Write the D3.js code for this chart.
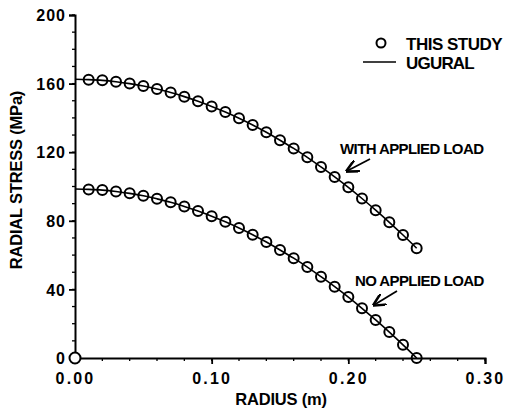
<!DOCTYPE html>
<html><head><meta charset="utf-8">
<script src="https://cdn.jsdelivr.net/npm/d3@7"></script>
<style>
html,body{margin:0;padding:0;background:#fff;}
text{font-family:"Liberation Sans",Arial,Helvetica,sans-serif;fill:#000;}
</style></head>
<body><svg id="c" width="505" height="408"></svg>
<script>
// Data
const radius = [0.01,0.02,0.03,0.04,0.05,0.06,0.07,0.08,0.09,0.10,0.11,0.12,0.13,0.14,0.15,0.16,0.17,0.18,0.19,0.20,0.21,0.22,0.23,0.24,0.25];
const noLoadStudy = [98.3,97.9,97.1,96.0,94.6,92.8,90.8,88.4,85.7,82.7,79.4,75.8,71.9,67.6,63.0,58.2,53.0,47.4,41.6,35.5,29.0,22.2,15.1,7.7,0.0];
const withLoadStudy = [162.3,161.9,161.1,160.0,158.6,156.8,154.8,152.4,149.7,146.7,143.4,139.8,135.9,131.6,127.0,122.2,117.0,111.4,105.6,99.5,93.0,86.2,79.1,71.7,64.0];
const lineRadius = [0.00,0.01,0.02,0.03,0.04,0.05,0.06,0.07,0.08,0.09,0.10,0.11,0.12,0.13,0.14,0.15,0.16,0.17,0.18,0.19,0.20,0.21,0.22,0.23,0.24,0.25];
const noLoadUgural = [98.5,98.3,97.9,97.1,96.0,94.6,92.8,90.8,88.4,85.7,82.7,79.4,75.8,71.9,67.6,63.0,58.2,53.0,47.4,41.6,35.5,29.0,22.2,15.1,7.7,0.0];
const withLoadUgural = [162.5,162.3,161.9,161.1,160.0,158.6,156.8,154.8,152.4,149.7,146.7,143.4,139.8,135.9,131.6,127.0,122.2,117.0,111.4,105.6,99.5,93.0,86.2,79.1,71.7,64.0];
const originPoint = [0.0, 0.0];
const xTicks = [0.00,0.10,0.20,0.30];
const xTickLabels = ["0.00","0.10","0.20","0.30"];
const yTicks = [0,40,80,120,160,200];
const yTickLabels = ["0","40","80","120","160","200"];
const xLabel = "RADIUS (m)";
const yLabel = "RADIAL STRESS (MPa)";
const legendLabels = ["THIS STUDY","UGURAL"];
const annotations = ["WITH APPLIED LOAD","NO APPLIED LOAD"];

const svg = d3.select("#c");
const x = d3.scaleLinear().domain([0,0.30]).range([75,485]);
const y = d3.scaleLinear().domain([0,200]).range([358,15]);

const g = svg.append("g");

// minor ticks
const xMinor = d3.range(0,0.3001,0.02);
const yMinor = d3.range(0,200.01,10);
g.append("g").selectAll("line").data(xMinor).join("line")
  .attr("x1",d=>x(d)).attr("x2",d=>x(d)).attr("y1",y(0)).attr("y2",y(0)+3)
  .attr("stroke","#000").attr("stroke-width",1.3);
g.append("g").selectAll("line").data(yMinor).join("line")
  .attr("y1",d=>y(d)).attr("y2",d=>y(d)).attr("x1",x(0)-3).attr("x2",x(0))
  .attr("stroke","#000").attr("stroke-width",1.3);

// axes
const xAxis = d3.axisBottom(x).tickValues(xTicks).tickFormat((d,i)=>xTickLabels[i]).tickSize(6).tickPadding(6);
const yAxis = d3.axisLeft(y).tickValues(yTicks).tickFormat((d,i)=>yTickLabels[i]).tickSize(6).tickPadding(3);
const gx = g.append("g").attr("transform",`translate(0,${y(0)})`).call(xAxis);
const gy = g.append("g").attr("transform",`translate(${x(0)},0)`).call(yAxis);
[gx,gy].forEach(a=>{
  a.select(".domain").attr("stroke","#000").attr("stroke-width",2);
  a.selectAll(".tick line").attr("stroke","#000").attr("stroke-width",1.8);
  a.selectAll(".tick text").attr("font-family","'Liberation Sans',Arial,sans-serif")
   .attr("font-size",16).attr("font-weight","bold").attr("fill","#000");
});
gx.selectAll(".tick text").attr("letter-spacing","2.2px").attr("dy","0.85em");
gy.selectAll(".tick text").attr("letter-spacing","1px").attr("dy","0.36em");

// lines
const line = d3.line().x(d=>x(d[0])).y(d=>y(d[1])).curve(d3.curveMonotoneX);
[noLoadUgural,withLoadUgural].forEach(vals=>{
  g.append("path").datum(lineRadius.map((r,i)=>[r,vals[i]]))
   .attr("d",line).attr("fill","none").attr("stroke","#000").attr("stroke-width",1.6);
});

// study points
[noLoadStudy,withLoadStudy].forEach(vals=>{
  g.append("g").selectAll("circle").data(radius.map((r,i)=>[r,vals[i]])).join("circle")
   .attr("cx",d=>x(d[0])).attr("cy",d=>y(d[1])).attr("r",5)
   .attr("fill","none").attr("stroke","#000").attr("stroke-width",2);
});
g.append("circle").attr("cx",x(originPoint[0])).attr("cy",y(originPoint[1])).attr("r",5.5)
  .attr("fill","#fff").attr("stroke","#000").attr("stroke-width",2);

// axis titles
svg.append("text").attr("x",281).attr("y",405).attr("text-anchor","middle")
  .attr("font-size",16.5).attr("font-weight","bold").attr("letter-spacing","-0.2px").text(xLabel);
svg.append("text").attr("transform","translate(22,180) rotate(-90)").attr("text-anchor","middle")
  .attr("font-size",16.5).attr("font-weight","bold").attr("letter-spacing","-0.2px").text(yLabel);

// legend
svg.append("circle").attr("cx",381).attr("cy",43).attr("r",4.5).attr("fill","none").attr("stroke","#000").attr("stroke-width",2);
svg.append("line").attr("x1",363).attr("x2",396).attr("y1",62).attr("y2",62).attr("stroke","#000").attr("stroke-width",1.6);
svg.append("text").attr("x",406).attr("y",49.5).attr("font-size",17).attr("font-weight","bold").attr("letter-spacing","-0.5px").text(legendLabels[0]);
svg.append("text").attr("x",406).attr("y",69).attr("font-size",17).attr("font-weight","bold").attr("letter-spacing","-0.8px").text(legendLabels[1]);

// annotations
svg.append("text").attr("x",340).attr("y",154).attr("font-size",15).attr("font-weight","bold").attr("letter-spacing","-0.6px").text(annotations[0]);
svg.append("text").attr("x",355).attr("y",286).attr("font-size",15).attr("font-weight","bold").attr("letter-spacing","-0.6px").text(annotations[1]);
svg.append("defs").append("marker").attr("id","ah").attr("viewBox","0 0 10 10").attr("refX",9).attr("refY",5)
  .attr("markerWidth",7).attr("markerHeight",7).attr("orient","auto")
  .append("path").attr("d","M0,0 L10,5 L0,10").attr("fill","none").attr("stroke","#000").attr("stroke-width",2);
svg.append("line").attr("x1",370).attr("y1",159).attr("x2",347).attr("y2",171)
  .attr("stroke","#000").attr("stroke-width",1.8).attr("marker-end","url(#ah)");
svg.append("line").attr("x1",397).attr("y1",291).attr("x2",374).attr("y2",305)
  .attr("stroke","#000").attr("stroke-width",1.8).attr("marker-end","url(#ah)");
</script></body></html>
